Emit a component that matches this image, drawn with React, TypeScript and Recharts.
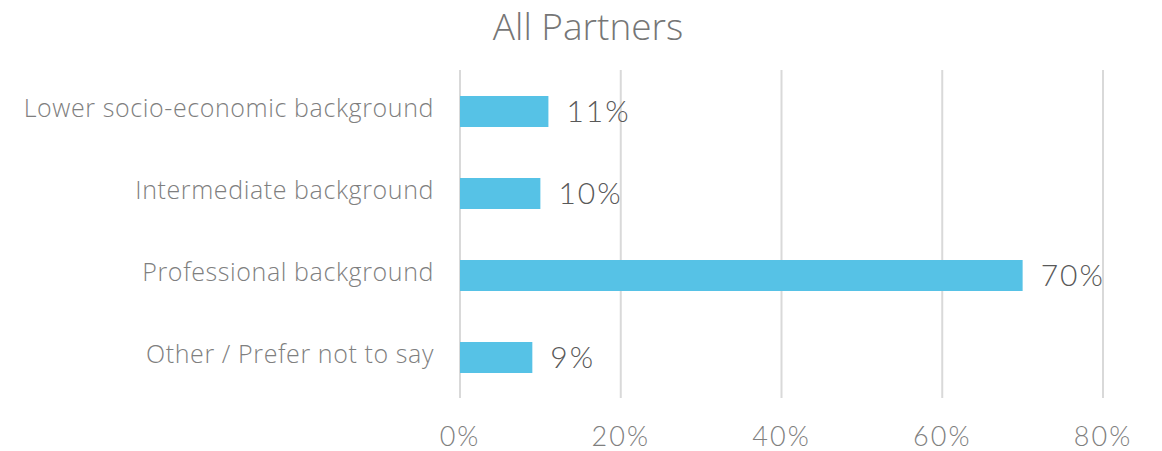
import { Bar, BarChart, CartesianGrid, LabelList, XAxis, YAxis } from "recharts";

const categories = [
  "Lower socio-economic background",
  "Intermediate background",
  "Professional background",
  "Other / Prefer not to say",
];
const shares = [11, 10, 70, 9];
const xTicks = [0, 20, 40, 60, 80];

const data = categories.map((name, i) => ({ name, value: shares[i] }));

const BAR_COLOR = "#56c2e6";

export default function App() {
  return (
    <div
      style={{
        position: "absolute",
        left: 0,
        top: 0,
        width: 1162,
        height: 451,
        background: "#fff",
        fontFamily: "'Open Sans', sans-serif",
      }}
    >
      <div
        style={{
          position: "absolute",
          left: 0,
          width: 1176,
          top: 0,
          textAlign: "center",
          fontSize: 37,
          fontWeight: 300,
          color: "#767676",
        }}
      >
        All Partners
      </div>
      <BarChart
        width={1162}
        height={451}
        data={data}
        layout="vertical"
        margin={{ top: 70, right: 59, bottom: 0, left: 0 }}
        barCategoryGap={0}
      >
        <CartesianGrid horizontal={false} stroke="#d9d9d9" strokeWidth={2} />
        <XAxis
          type="number"
          domain={[0, 80]}
          ticks={xTicks}
          tickFormatter={(v) => `${v}%`}
          axisLine={false}
          tickLine={false}
          height={53}
          tickMargin={23}
          tick={{ fill: "#7f7f7f", fontSize: 27, fontFamily: "Lato", fontWeight: 300, letterSpacing: 2 }}
        />
        <YAxis
          type="category"
          dataKey="name"
          width={460}
          axisLine={false}
          tickLine={false}
          tickMargin={20}
          dy={-3}
          tick={{ fill: "#7f7f7f", fontSize: 25, fontFamily: "Open Sans", fontWeight: 300, letterSpacing: 0.6 }}
        />
        <Bar dataKey="value" fill={BAR_COLOR} barSize={31} isAnimationActive={false}>
          <LabelList
            dataKey="value"
            position="right"
            offset={18}
            formatter={(v: number) => `${v}%`}
            style={{ fill: "#595959", fontSize: 30, fontFamily: "Lato", fontWeight: 300, letterSpacing: 2 }}
          />
        </Bar>
      </BarChart>
    </div>
  );
}
